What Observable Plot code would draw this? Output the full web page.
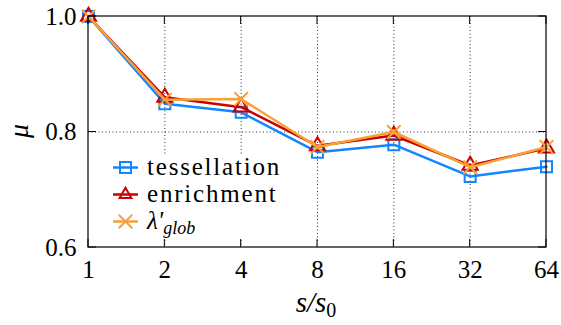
<!DOCTYPE html>
<html>
<head>
<meta charset="utf-8">
<script src="https://cdn.jsdelivr.net/npm/d3@7"></script>
<script src="https://cdn.jsdelivr.net/npm/@observablehq/plot@0.6"></script>
<style>
  body { margin: 0; background: #fff; }
  #chart svg { display: block; }
  #chart text, #chart tspan { font-family: "Liberation Serif", serif; }
</style>
</head>
<body>
<div id="chart"></div>
<script>
// Relative scale s/s0 (log2 axis)
const scales = [1, 2, 4, 8, 16, 32, 64];
// mu per method
const tessellation = [1.000, 0.849, 0.834, 0.765, 0.778, 0.723, 0.740];
const enrichment   = [1.000, 0.860, 0.843, 0.776, 0.794, 0.742, 0.772];
const lambdaGlob   = [1.000, 0.856, 0.857, 0.774, 0.800, 0.739, 0.774];
const yTicks = [0.6, 0.8, 1.0];
const gridX = [2, 4, 8, 16, 32];
const gridY = [0.8];

const W = 561, H = 325;
const M = {left: 88, right: 15, top: 16, bottom: 78};
const plotW = W - M.left - M.right;
const plotH = H - M.top - M.bottom;
const FONT = "Liberation Serif";

const series = [
  {name: "tessellation", values: tessellation, color: "#1286ff", symbol: "square", r: 6.2},
  {name: "enrichment",   values: enrichment,   color: "#cc0000", symbol: "triangle", r: 5.6},
  {name: "lambda",       values: lambdaGlob,   color: "#f7a137", symbol: "times", r: 6.2}
];
const rows = series.map(s => scales.map((x, i) => ({s: x, v: s.values[i]})));

const grid = {stroke: "#333", strokeWidth: 1, strokeDasharray: "1,2.5"};

const marks = [
  Plot.ruleX(gridX, {x: d => d, ...grid}),
  Plot.ruleY(gridY, {y: d => d, ...grid}),
  Plot.axisX(scales, {tickSize: 0, tickPadding: 13, tickFormat: d => String(d), label: null, fontSize: 25}),
  Plot.axisY(yTicks, {tickSize: 0, tickPadding: 12, tickFormat: d3.format(".1f"), label: null, fontSize: 25})
];
series.forEach((s, k) => {
  marks.push(Plot.line(rows[k], {x: "s", y: "v", stroke: s.color, strokeWidth: 2.5}));
  marks.push(Plot.dot(rows[k], {x: "s", y: "v", symbol: s.symbol, r: s.r, stroke: s.color, strokeWidth: 2, fill: "none"}));
});

const chart = Plot.plot({
  width: W, height: H,
  marginLeft: M.left, marginRight: M.right, marginTop: M.top, marginBottom: M.bottom,
  style: {fontFamily: FONT, fontSize: "25px"},
  x: {type: "log", base: 2, domain: [1, 64], axis: null},
  y: {domain: [0.6, 1.0], axis: null},
  marks
});
document.getElementById("chart").appendChild(chart);

const svg = d3.select(chart);

// Legend: opaque box inside the plot area
const lg = svg.append("g");
lg.append("rect").attr("x", 100).attr("y", 154).attr("width", 186).attr("height", 84).attr("fill", "white");
const symbols = {square: d3.symbolSquare, triangle: d3.symbolTriangle2, times: d3.symbolTimes};
series.forEach((s, k) => {
  const y = 167.5 + k * 27;
  lg.append("line").attr("x1", 113).attr("x2", 138).attr("y1", y).attr("y2", y)
    .attr("stroke", s.color).attr("stroke-width", 2.5);
  lg.append("path").attr("transform", `translate(125.5,${y})`)
    .attr("d", d3.symbol(symbols[s.symbol], Math.PI * s.r * s.r)())
    .attr("fill", "none").attr("stroke", s.color).attr("stroke-width", 2);
  const t = lg.append("text").attr("x", 147).attr("y", y + 7)
    .attr("text-anchor", "start").attr("font-size", 25);
  if (s.name === "lambda") {
    t.append("tspan").attr("font-style", "italic").text("λ'");
    t.append("tspan").attr("font-style", "italic").attr("font-size", 18).attr("dy", "5").text("glob");
  } else {
    t.attr("letter-spacing", 1.8).text(s.name);
  }
});

// Frame and inward, mirrored tick marks, drawn over the legend box
const x = chart.scale("x"), yS = chart.scale("y");
const fr = svg.append("g").attr("stroke", "black").attr("fill", "none");
fr.append("rect").attr("x", M.left).attr("y", M.top).attr("width", plotW).attr("height", plotH).attr("stroke-width", 1.2);
scales.forEach(d => {
  const px = x.apply(d);
  fr.append("line").attr("x1", px).attr("x2", px).attr("y1", M.top + plotH).attr("y2", M.top + plotH - 8);
  fr.append("line").attr("x1", px).attr("x2", px).attr("y1", M.top).attr("y2", M.top + 8);
});
yTicks.forEach(d => {
  const py = yS.apply(d);
  fr.append("line").attr("x1", M.left).attr("x2", M.left + 8).attr("y1", py).attr("y2", py);
  fr.append("line").attr("x1", M.left + plotW).attr("x2", M.left + plotW - 8).attr("y1", py).attr("y2", py);
});

// Axis titles
svg.append("text").attr("transform", "translate(20,131) rotate(-90)")
  .attr("text-anchor", "middle").attr("dy", "0.3em")
  .attr("font-size", 28).attr("font-style", "italic").text("μ");
const xl = svg.append("text").attr("x", 316).attr("y", 312).attr("text-anchor", "middle")
  .attr("font-size", 29).attr("font-style", "italic");
xl.append("tspan").text("s/s");
xl.append("tspan").attr("font-style", "normal").attr("font-size", 20).attr("dy", 5).text("0");

// every label in the serif face
svg.selectAll("text, tspan").style("font-family", FONT);
</script>
</body>
</html>
